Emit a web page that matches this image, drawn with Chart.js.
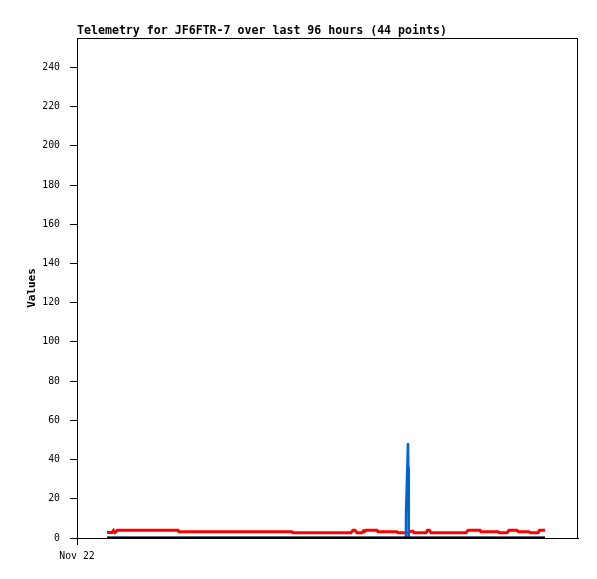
<!DOCTYPE html>
<html>
<head>
<meta charset="utf-8">
<script src="https://cdn.jsdelivr.net/npm/chart.js@4/dist/chart.umd.min.js"></script>
<style>
  html, body { margin: 0; padding: 0; background: #fff; }
  #wrap { width: 597px; height: 579px; }
</style>
</head>
<body>
<div id="wrap"><canvas id="chart" width="597" height="579"></canvas></div>
<script>
// hours since Nov 22 00:00
const redHours = [5.75, 6.71, 6.99, 7.28, 7.76, 19.35, 19.54, 41.2, 41.39, 52.5, 52.88, 53.27, 53.65,
  54.61, 54.9, 55.09, 55.37, 57.48, 57.67, 61.31, 61.5, 63.61, 63.71, 64.38, 64.57, 66.87, 67.16,
  67.54, 67.83, 74.54, 74.92, 77.22, 77.41, 80.67, 80.95, 82.39, 82.78, 84.31, 84.59, 86.61, 86.9,
  88.33, 88.62, 89.67]
const redValues = [2.8, 2.8, 3.9, 2.8, 3.9, 3.9, 3.2, 3.2, 2.7, 2.7, 3.9, 3.9, 2.7,
  2.7, 3.7, 3.3, 3.9, 3.9, 3.2, 3.2, 2.7, 2.7, 3.4, 3.4, 2.7, 2.7, 3.9,
  3.9, 2.7, 2.7, 3.9, 3.9, 3.2, 3.2, 2.7, 2.7, 3.9, 3.9, 3.2, 3.2, 2.7,
  2.7, 3.9, 3.9]

const blueHours = [5.75, 62.95, 63.04, 63.42, 63.48, 63.54, 63.61, 89.67]
const blueValues = [0, 0, 12.1, 48.4, 36.1, 24.4, 0, 0]

const baseHours = [5.75, 89.67]
const baseValues = [0, 0]

const yTicks = [0, 20, 40, 60, 80, 100, 120, 140, 160, 180, 200, 220, 240]
const xTickLabel = "Nov 22"
const chartTitle = "Telemetry for JF6FTR-7 over last 96 hours (44 points)"

const points = (xs, ys) => xs.map((x, i) => ({ x: x, y: ys[i] }))

const frameAndTitle = {
  id: "frameAndTitle",
  afterDraw(chart) {
    const { ctx, chartArea } = chart
    ctx.save()
    ctx.strokeStyle = "#000"
    ctx.lineWidth = 1
    ctx.strokeRect(chartArea.left + 0.5, chartArea.top + 0.5,
      chartArea.right - chartArea.left - 1, chartArea.bottom - chartArea.top)
    ctx.fillStyle = "#000"
    ctx.font = "bold 11.6px 'DejaVu Sans Mono'"
    ctx.textAlign = "left"
    ctx.textBaseline = "alphabetic"
    ctx.fillText(chartTitle, chartArea.left, 34)
    ctx.restore()
  }
}

const ctx = document.getElementById("chart").getContext("2d")

new Chart(ctx, {
  type: "line",
  data: {
    datasets: [
      { data: points(baseHours, baseValues), borderColor: "#000", borderWidth: 3 },
      { data: points(blueHours, blueValues), borderColor: "#0064d2", borderWidth: 2.5 },
      { data: points(redHours, redValues), borderColor: "#ff0000", borderWidth: 3 }
    ]
  },
  options: {
    responsive: false,
    animation: false,
    devicePixelRatio: 1,
    layout: { padding: { top: 38, right: 19, left: 0, bottom: 0 } },
    elements: { point: { radius: 0 }, line: { tension: 0, borderCapStyle: "butt" } },
    plugins: { legend: { display: false }, tooltip: { enabled: false } },
    scales: {
      x: {
        type: "linear",
        min: 0,
        max: 96,
        afterBuildTicks: scale => { scale.ticks = [{ value: 0 }] },
        afterFit: scale => { scale.height = 41 },
        grid: { drawOnChartArea: false, drawTicks: true, tickLength: 7, color: "#000" },
        border: { display: true, color: "#000", width: 1 },
        ticks: {
          callback: () => xTickLabel,
          color: "#000",
          font: { family: "'DejaVu Sans Mono'", size: 9.8 },
          padding: 6,
          maxRotation: 0
        }
      },
      y: {
        min: 0,
        max: 255,
        afterBuildTicks: scale => { scale.ticks = yTicks.map(v => ({ value: v })) },
        afterFit: scale => { scale.width = 77 },
        grid: { drawOnChartArea: false, drawTicks: true, tickLength: 7, color: "#000" },
        border: { display: true, color: "#000", width: 1 },
        ticks: {
          color: "#000",
          font: { family: "'DejaVu Sans Mono'", size: 9.8 },
          padding: 10
        },
        title: {
          display: true,
          text: "Values",
          color: "#000",
          font: { family: "'DejaVu Sans Mono'", size: 11, weight: "bold" },
          padding: { top: 26, bottom: 0 }
        }
      }
    }
  },
  plugins: [frameAndTitle]
})
</script>
</body>
</html>
